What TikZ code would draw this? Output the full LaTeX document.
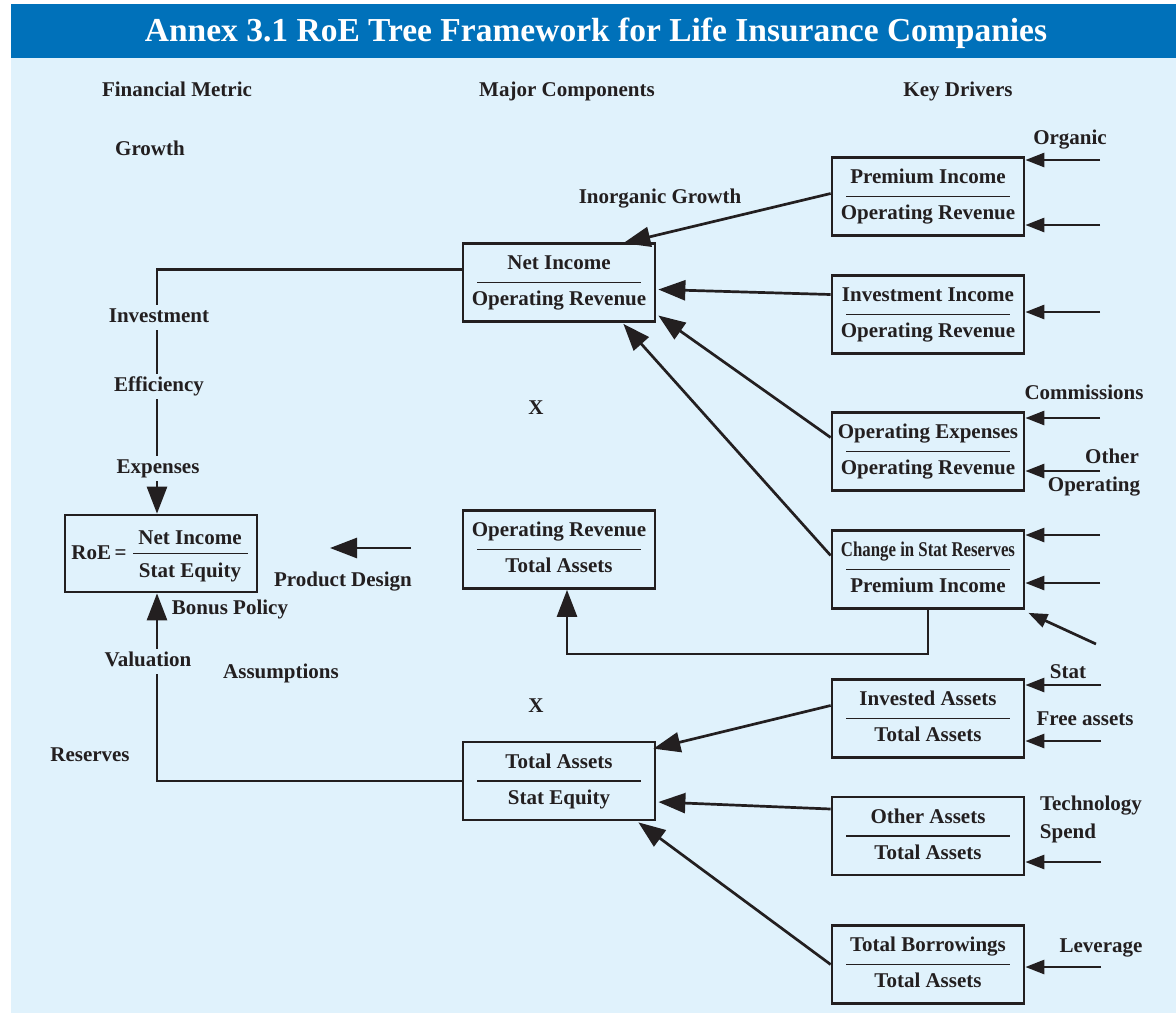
\documentclass[tikz,border=0pt]{standalone}
\usepackage{fontspec}
\setmainfont{Liberation Serif}
\usetikzlibrary{arrows.meta,calc}
\definecolor{ink}{HTML}{231F20}
\definecolor{barblue}{HTML}{0071BA}
\definecolor{paleblue}{HTML}{E0F2FC}
\tikzset{
  lbl/.style={font=\bfseries\fontsize{21}{24}\selectfont, text=ink, inner sep=0pt,
              text height=14pt, text depth=4pt},
  onrule/.style={lbl, fill=paleblue, inner ysep=3.5pt, inner xsep=1pt},
  rbox/.style={draw=ink, line width=2.7pt, minimum width=192pt, minimum height=78pt, inner sep=0pt},
  fracline/.style={draw=ink, line width=1.4pt},
  conn/.style={draw=ink, line width=2.7pt, -{Triangle[length=27pt,width=20pt]}},
  drv/.style={draw=ink, line width=2.7pt, -{Triangle[length=19pt,width=14pt]}},
}
% a boxed ratio: name, x, y, numerator, denominator
\newcommand\ratiobox[5]{%
  \node[rbox] (#1) at (#2,#3) {};
  \node[lbl] (#1-num) at ([yshift=18pt]#1.center) {#4};
  \node[lbl] (#1-den) at ([yshift=-18pt]#1.center) {#5};
  \draw[fracline] ([xshift=-82pt]#1.center) -- ([xshift=82pt]#1.center);
}
\begin{document}
\begin{tikzpicture}[x=1pt,y=-1pt]
\useasboundingbox (0,0) rectangle (1176,1013);
% backgrounds
\fill[white] (0,0) rectangle (1176,1013);
\fill[paleblue] (11,58) rectangle (1176,1013);
\fill[barblue] (11,4) rectangle (1176,58);
\node[font=\bfseries\fontsize{33.5}{38}\selectfont, text=white, inner sep=0pt] (title) at (596,33)
  {Annex 3.1 RoE Tree Framework for Life Insurance Companies};

% column headings
\node[lbl] (h1) at (177,91) {Financial Metric};
\node[lbl] (h2) at (567,91) {Major Components};
\node[lbl] (h3) at (958,91) {Key Drivers};

% RoE box
\node[rbox, minimum height=77pt] (roe) at (161,553.5) {};
\node[lbl] (roe-lhs) at (99,554) {RoE\,=};
\node[lbl] (roe-num) at (190,539) {Net Income};
\node[lbl] (roe-den) at (190,572) {Stat Equity};
\draw[fracline] ([xshift=-28pt]roe.center) -- ([xshift=87pt]roe.center);

% major components
\ratiobox{ni}{559}{282.5}{Net Income}{Operating Revenue}
\ratiobox{ort}{559}{549.5}{Operating Revenue}{Total Assets}
\ratiobox{ta}{559}{781}{Total Assets}{Stat Equity}

% key driver ratios
\ratiobox{prem}{928}{196.5}{Premium Income}{Operating Revenue}
\ratiobox{inv}{928}{314.5}{Investment Income}{Operating Revenue}
\ratiobox{opx}{928}{451.5}{Operating Expenses}{Operating Revenue}
\ratiobox{chg}{928}{569.5}{\scalebox{0.8}[1]{Change in Stat Reserves}}{Premium Income}
\ratiobox{ias}{928}{718.5}{Invested Assets}{Total Assets}
\ratiobox{oas}{928}{836}{Other Assets}{Total Assets}
\ratiobox{tbr}{928}{964.5}{Total Borrowings}{Total Assets}

% links into RoE
\draw[conn] ($(ni.west)+(0,-13)$) -| ($(roe.north)+(-4,0)$);
\draw[conn] (ta.west) -| ($(roe.south)+(-4,0)$);

% drivers into net income / revenue
\draw[conn] ($(prem.west)+(0,-3)$) -- ($(ni.north east)+(-33,1)$);
\draw[conn] ($(inv.west)+(0,-20)$) -- ($(ni.east)+(2,7)$);
\draw[conn] ($(opx.west)+(0,-14)$) -- ($(ni.east)+(2,33)$);
\draw[conn] ($(chg.west)+(0,-14)$) -- ($(ni.south east)+(-33,1)$);
\draw[conn] (chg.south) -- ++(0,44) -| ($(ort.south)+(8,0)$);

% drivers into total assets / equity
\draw[conn] ($(ias.west)+(0,-13)$) -- ($(ta.north east)+(-3,8)$);
\draw[conn] ($(oas.west)+(0,-27)$) -- ($(ta.east)+(2,21)$);
\draw[conn] (tbr.west) -- ($(ta.south east)+(-18,1)$);

% external driver arrows
\coordinate (d1) at (1100,160);
\coordinate (d2) at (1100,225);
\coordinate (d3) at (1100,312);
\coordinate (d4) at (1100,418);
\coordinate (d5) at (1100,471);
\coordinate (d6) at (1100,535);
\coordinate (d7) at (1100,583);
\coordinate (d8) at (1096,644);
\coordinate (d9) at (1101,685);
\coordinate (d10) at (1101,741);
\coordinate (d11) at (1101,862);
\coordinate (d12) at (1101,967);
\draw[drv] (d1) -- (prem.east |- d1);
\draw[drv] (d2) -- (prem.east |- d2);
\draw[drv] (d3) -- (inv.east |- d3);
\draw[drv] (d4) -- (opx.east |- d4);
\draw[drv] (d5) -- (opx.east |- d5);
\draw[drv] (d6) -- (chg.east |- d6);
\draw[drv] (d7) -- (chg.east |- d7);
\draw[drv] (d8) -- ($(chg.south east)+(3,3)$);
\draw[drv] (d9) -- (ias.east |- d9);
\draw[drv] (d10) -- (ias.east |- d10);
\draw[drv] (d11) -- (oas.east |- d11);
\draw[drv] (d12) -- (tbr.east |- d12);

% product design arrow
\coordinate (pd1) at (411,548);
\coordinate (pd2) at (330,548);
\draw[conn] (pd1) -- (pd2);

% labels
\node[lbl] (l-growth) at (150,150) {Growth};
\node[lbl] (l-inorg) at (660,198) {Inorganic Growth};
\node[lbl] (l-organic) at (1070,139) {Organic};
\node[onrule] (l-invest) at (159,317) {Investment};
\node[onrule] (l-eff) at (159,386) {Efficiency};
\node[onrule] (l-exp) at (158,468) {Expenses};
\node[lbl] (l-x1) at (536,409) {X};
\node[lbl] (l-x2) at (536,707) {X};
\node[lbl] (l-pd) at (343,581) {Product Design};
\node[lbl] (l-bonus) at (230,609) {Bonus Policy};
\node[onrule] (l-val) at (148,661) {Valuation};
\node[lbl] (l-ass) at (281,673) {Assumptions};
\node[lbl] (l-res) at (90,756) {Reserves};
\node[lbl] (l-comm) at (1084,394) {Commissions};
\node[lbl] (l-other) at (1112,458) {Other};
\node[lbl] (l-oper) at (1094,486) {Operating};
\node[lbl] (l-stat) at (1068,673) {Stat};
\node[lbl] (l-free) at (1085,720) {Free assets};
\node[lbl] (l-tech) at (1091,805) {Technology};
\node[lbl] (l-spend) at (1068,833) {Spend};
\node[lbl] (l-lev) at (1101,947) {Leverage};
\end{tikzpicture}
\end{document}
